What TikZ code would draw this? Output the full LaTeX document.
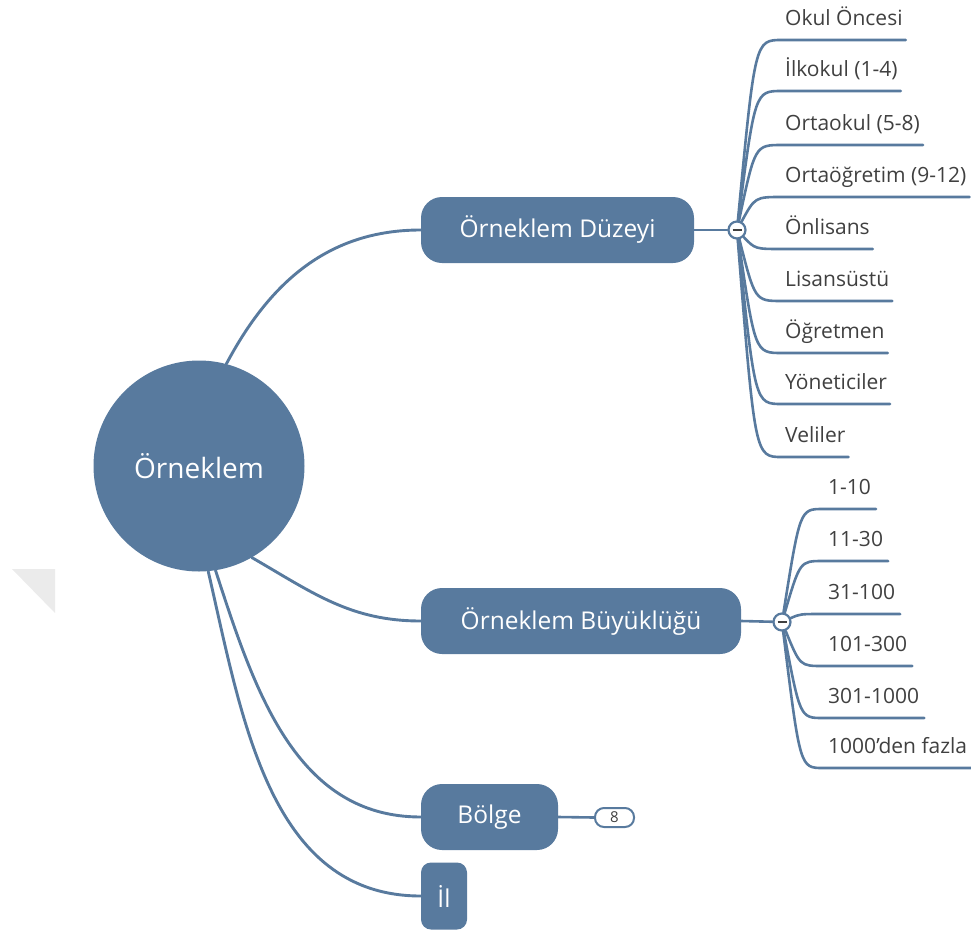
\documentclass[tikz,border=0pt]{standalone}
\usepackage{fontspec}
\setmainfont{Open Sans}
\definecolor{nodeblue}{HTML}{587A9E}
\definecolor{leaftext}{HTML}{404040}
\definecolor{shadegray}{HTML}{EBEBEB}
\begin{document}
\begin{tikzpicture}[x=1pt,y=-1pt,
  link/.style={draw=nodeblue, line width=2.6pt, line cap=round},
  mainlink/.style={link, line width=2.9pt},
  rootnode/.style={circle, fill=nodeblue, text=white, minimum size=211pt, inner sep=0pt,
    font=\fontsize{28}{28}\selectfont},
  topic/.style={fill=nodeblue, text=white, rounded corners=21pt, minimum height=66pt,
    inner sep=0pt, font=\fontsize{24.5}{24.5}\selectfont},
  leaf/.style={anchor=south west, inner xsep=3pt, inner ysep=14pt, text depth=0pt,
    text=leaftext, font=\fontsize{21}{21}\selectfont},
  toggle/.style={circle, fill=white, draw=nodeblue, line width=2.2pt, minimum size=17pt, inner sep=0pt},
  badge/.style={rounded corners=9pt, fill=white, draw=nodeblue, line width=2pt,
    minimum width=39pt, minimum height=19pt, inner sep=0pt, text=leaftext,
    font=\fontsize{15}{15}\selectfont}
]
\useasboundingbox (0,0) rectangle (971,934);

% faint corner mark on the left
\fill[shadegray] (12,569) -- (55,569) -- (55,613) -- cycle;

% central topic and main branches
\node[rootnode] (root) at (199,466) {Örneklem};
\node[topic, minimum width=273pt] (duz) at (557.5,230) {Örneklem Düzeyi};
\node[topic, minimum width=320pt] (buy) at (581,621) {Örneklem Büyüklüğü};
\node[topic, minimum width=137pt] (bol) at (489.5,817) {Bölge};
\node[topic, minimum width=46pt, minimum height=67pt, rounded corners=10pt] (il) at (444,896) {İl};

\draw[mainlink] (root.75) to[out=62,in=180] (duz.west);
\draw[mainlink] (root.-60) to[out=-30,in=180] (buy.west);
\draw[mainlink] (root.-81) to[out=-72,in=180] (bol.west);
\draw[mainlink] (root.-85) to[out=-77,in=180] (il.west);

% collapse toggles and the folded-branch badge
\node[toggle] (kd) at (737,230) {};
\node[toggle] (kb) at (782,622) {};
\node[badge] (b8) at (614.5,817.5) {8};
\draw[link] (duz.east) -- (kd);
\draw[link] (buy.east) -- (kb);
\draw[link] (bol.east) -- (b8.west);

% leaves of "Örneklem Düzeyi"
\node[leaf] (d1) at (782,40) {Okul Öncesi};
\node[leaf] (d2) at (782,91) {İlkokul (1-4)};
\node[leaf] (d3) at (782,145) {Ortaokul (5-8)};
\node[leaf] (d4) at (782,197) {Ortaöğretim (9-12)};
\node[leaf] (d5) at (782,249) {Önlisans};
\node[leaf] (d6) at (782,301) {Lisansüstü};
\node[leaf] (d7) at (782,353) {Öğretmen};
\node[leaf] (d8) at (782,404) {Yöneticiler};
\node[leaf] (d9) at (782,457) {Veliler};
\foreach \l in {d1,d2,d3,d4,d5,d6,d7,d8,d9}{
  \draw[link] (kd) .. controls ([xshift=18pt]kd.center |- \l.south west) .. (\l.south west)
    -- (\l.south east);
}

% leaves of "Örneklem Büyüklüğü"
\tikzset{leafb/.style={leaf, inner xsep=5pt}}
\node[leafb] (b1) at (823,509) {1-10};
\node[leafb] (b2) at (823,561) {11-30};
\node[leafb] (b3) at (823,614) {31-100};
\node[leafb] (b4) at (823,666) {101-300};
\node[leafb] (b5) at (823,718) {301-1000};
\node[leafb] (b6) at (823,768) {1000'den fazla};
\foreach \l in {b1,b2,b3,b4,b5,b6}{
  \draw[link] (kb) .. controls ([xshift=18pt]kb.center |- \l.south west) .. (\l.south west)
    -- (\l.south east);
}

% minus signs drawn over the toggles
\draw[leaftext, line width=1.6pt] ([xshift=-4.5pt]kd.center) -- ([xshift=4.5pt]kd.center);
\draw[leaftext, line width=1.6pt] ([xshift=-4.5pt]kb.center) -- ([xshift=4.5pt]kb.center);
\end{tikzpicture}
\end{document}
